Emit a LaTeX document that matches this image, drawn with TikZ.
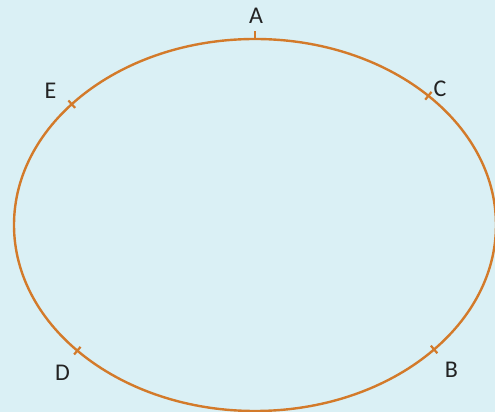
\documentclass[tikz,border=0pt]{standalone}
\usepackage{fontspec}
\setmainfont{Carlito}
\usetikzlibrary{calc}
\definecolor{bgblue}{RGB}{218,240,245}
\definecolor{orb}{RGB}{211,122,42}
\definecolor{txt}{RGB}{35,35,35}
\tikzset{
  orbit/.style={draw=orb, line width=2.4pt},
  tickmark/.style={draw=orb, line width=2.2pt},
  lbl/.style={text=txt, font=\fontsize{24}{28}\selectfont, inner sep=0pt}
}
\begin{document}
\begin{tikzpicture}[x=1pt,y=1pt]
\useasboundingbox (0,0) rectangle (495,412);
\fill[bgblue] (0,0) rectangle (495,412);
\coordinate (O) at (255,187);
\path[orbit] (O) ellipse [x radius=241pt, y radius=186pt];
% points on ellipse
\coordinate (pA) at ($(O)+(90:241pt and 186pt)$);
\coordinate (pC) at ($(O)+(44:241pt and 186pt)$);
\coordinate (pE) at ($(O)+(139.5:241pt and 186pt)$);
\coordinate (pB) at ($(O)+(-42:241pt and 186pt)$);
\coordinate (pD) at ($(O)+(-137.5:241pt and 186pt)$);
% tick ends
\coordinate (tA) at ($(pA)+(90:8pt)$);
\coordinate (tC1) at ($(pC)+(51.4:5pt)$);
\coordinate (tC2) at ($(pC)+(231.4:5pt)$);
\coordinate (tE1) at ($(pE)+(132.1:5pt)$);
\coordinate (tE2) at ($(pE)+(312.1:5pt)$);
\coordinate (tB1) at ($(pB)+(-49.4:5pt)$);
\coordinate (tB2) at ($(pB)+(130.6:5pt)$);
\coordinate (tD1) at ($(pD)+(-130.1:5pt)$);
\coordinate (tD2) at ($(pD)+(49.9:5pt)$);
\path[tickmark] (pA) -- (tA);
\path[tickmark] (tC1) -- (tC2);
\path[tickmark] (tE1) -- (tE2);
\path[tickmark] (tB1) -- (tB2);
\path[tickmark] (tD1) -- (tD2);
% labels
\node[lbl] (A) at (256,396) {A};
\node[lbl] (C) at (440,323.5) {C};
\node[lbl] (E) at (50.5,321) {E};
\node[lbl] (B) at (451.5,42) {B};
\node[lbl] (D) at (62.5,39.5) {D};
\end{tikzpicture}
\end{document}
